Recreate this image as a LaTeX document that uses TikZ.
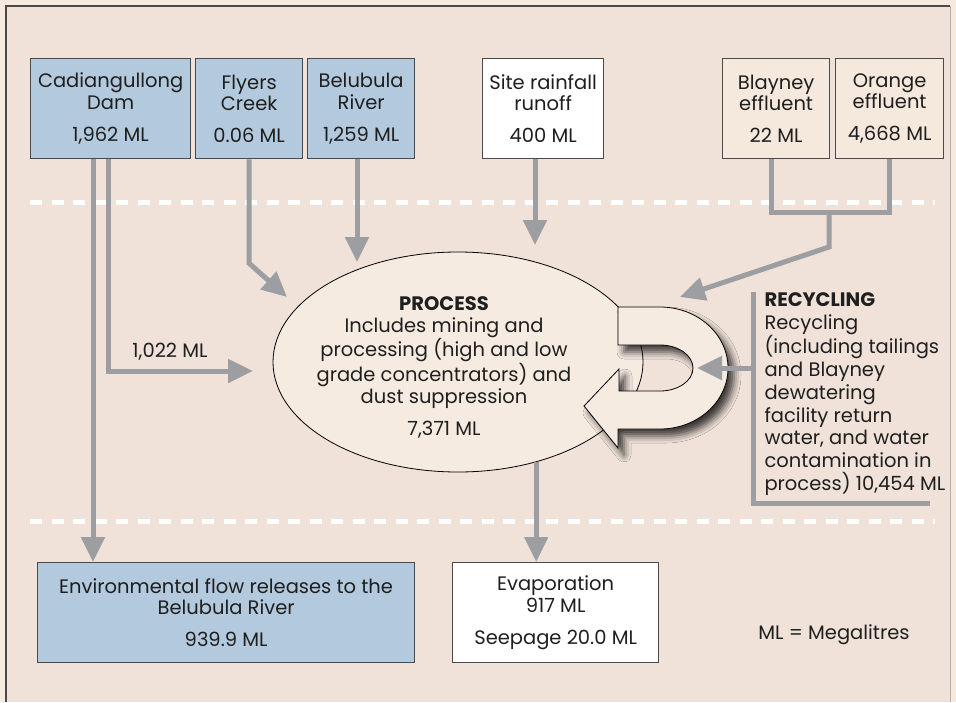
\documentclass[tikz,border=0pt]{standalone}
\usepackage{fontspec}
\setmainfont{Poppins}
\usetikzlibrary{arrows.meta,shapes.geometric,shadows.blur}
\definecolor{outerbg}{HTML}{F6EADF}
\definecolor{innerbg}{HTML}{F0E2D8}
\definecolor{boxblue}{HTML}{B3C9DD}
\definecolor{boxbeige}{HTML}{F5E8DD}
\definecolor{ellfill}{HTML}{F6EBE1}
\definecolor{flowgrey}{HTML}{9C9EA1}
\definecolor{edgecol}{HTML}{4A4A4A}
\begin{document}
\begin{tikzpicture}[x=1pt,y=1pt,
  txt/.style={font=\fontsize{19.5}{21.5}\selectfont, text=black!88},
  box/.style={txt, draw=edgecol, line width=1.3pt, anchor=north west, minimum height=100pt, inner sep=0pt, align=center},
  bluebox/.style={box, fill=boxblue},
  whitebox/.style={box, fill=white},
  beigebox/.style={box, fill=boxbeige},
  flow/.style={draw=flowgrey, line width=5pt, -{Triangle[width=23pt,length=25pt]}},
  flowline/.style={draw=flowgrey, line width=5pt},
  divider/.style={draw=white, line width=5pt, dash pattern=on 12pt off 9.5pt},
  uarrow/.style={draw=black, line width=0.8pt, fill=ellfill, blur shadow={shadow xshift=6pt, shadow yshift=-7pt, shadow blur radius=7pt, shadow opacity=75}}
]
% background and frame
\fill[outerbg] (0,0) rectangle (956,-702);
\useasboundingbox (0,0) rectangle (956,-702);
\fill[innerbg] (6,-6) rectangle (950,-702);
\draw[edgecol, line width=1.3pt] (6,-702) -- (6,-6) -- (950,-6);
\draw[gray!60, line width=0.8pt] (950,-6) -- (950,-702);

% dividers
\draw[divider] (30,-202) -- (935,-202);
\draw[divider] (30,-521) -- (935,-521);

% top boxes
\node[bluebox, minimum width=160pt] (cad) at (30,-58) {Cadiangullong\\Dam\\[10.5pt]1,962 ML};
\node[bluebox, minimum width=107pt] (fly) at (195,-58) {Flyers\\Creek\\[10.5pt]0.06 ML};
\node[bluebox, minimum width=107pt] (bel) at (307,-58) {Belubula\\River\\[10.5pt]1,259 ML};
\node[whitebox, minimum width=121pt] (site) at (482,-58) {Site rainfall\\runoff\\[10.5pt]400 ML};
\node[beigebox, minimum width=107pt] (bla) at (722,-58) {Blayney\\effluent\\[10.5pt]22 ML};
\node[beigebox, minimum width=108pt] (ora) at (835,-58) {Orange\\effluent\\[10.5pt]4,668 ML};

% bottom boxes
\node[bluebox, minimum width=377pt] (env) at (37,-562) {Environmental flow releases to the\\Belubula River\\[10.5pt]939.9 ML};
\node[whitebox, minimum width=206pt] (evap) at (452,-562) {Evaporation\\917 ML\\[10.5pt]Seepage 20.0 ML};

% tip coordinates
\coordinate (tipA) at (253,-371);
\coordinate (tipF) at (287,-297);
\coordinate (tipB) at (357,-262);
\coordinate (tipS) at (535,-245);
\coordinate (tipE) at (680,-297);
\coordinate (joinBO) at (829,-212);
\coordinate (tipR) at (697,-368);
\coordinate (recTop) at (753,-292);
\coordinate (recCorner) at (753,-503);
\coordinate (recEnd) at (930,-503);

% flows
\draw[flow] ([xshift=63pt]cad.south west) -- ([xshift=56pt]env.north west);
\draw[flow] ([xshift=78pt]cad.south west) |- (tipA);
\node[txt, anchor=center] (l1022) at (170,-352) {1,022 ML};
\draw[flow] (fly.south) -- ++(0,-104) -- (tipF);
\draw[flow] ([xshift=50pt]bel.south west) -- (tipB);
\draw[flow] ([xshift=53pt]site.south west) -- (tipS);
\draw[flowline] ([xshift=49pt]bla.south west) |- (joinBO) -| (ora.south);
\draw[flow] (joinBO) -- ++(0,-35) -- (tipE);

% process ellipse
\node[ellipse, draw=black, line width=0.8pt, fill=ellfill, minimum width=370pt, minimum height=220pt, inner sep=0pt] (proc) at (458,-362) {};
\node[txt, align=center, anchor=center, font=\fontsize{19.5}{22}\selectfont] (proctext) at (444,-367) {\textbf{PROCESS}\\Includes mining and\\processing (high and low\\grade concentrators) and\\dust suppression\\[10pt]7,371 ML};
\draw[flow] (proc.-52) -- (proc.-52 |- evap.north);

% recycling arrow symbol
\draw[uarrow] (618,-307) -- (660,-307) arc[start angle=90, end angle=-90, x radius=68, y radius=61] -- (618,-429) -- (618,-448) -- (584,-406) -- (619,-369) -- (619,-391) -- (660,-391) arc[start angle=-90, end angle=90, x radius=33, y radius=23] -- (618,-345) -- cycle;

% recycling bracket
\draw[flowline] (recTop) -- (recCorner) -- (recEnd);
\draw[flow] (recTop |- tipR) -- (tipR);
\node[txt, align=left, anchor=north west, font=\fontsize{19.5}{22.8}\selectfont] (rectext) at (761,-289) {\textbf{RECYCLING}\\Recycling\\(including tailings\\and Blayney\\dewatering\\facility return\\water, and water\\contamination in\\process) 10,454 ML};

\node[txt] (legend) at (834,-635) {ML = Megalitres};
\end{tikzpicture}
\end{document}
